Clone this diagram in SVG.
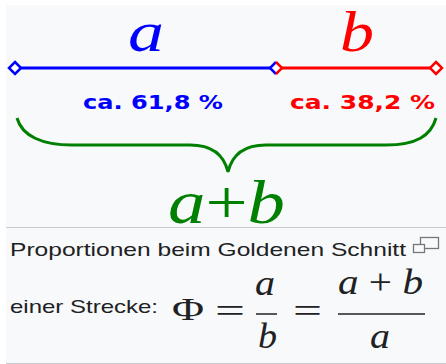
<svg xmlns="http://www.w3.org/2000/svg" width="446" height="364" viewBox="0 0 446 364">
<style>
.serif{font-family:"Liberation Serif","Times New Roman",serif}
.it{font-style:italic}
.pct{font-family:"DejaVu Sans",Verdana,sans-serif;font-weight:bold;font-size:20px}
.cap{font-family:"Liberation Sans",Arial,sans-serif;font-size:19px;fill:#202122}
.math{font-family:"Liberation Serif","Times New Roman",serif;fill:#202122}
</style>
<rect x="0" y="0" width="446" height="364" fill="#ffffff"/>
<rect x="6" y="5" width="440" height="358" fill="#f8f9fa"/>
<line x1="6" y1="227.5" x2="446" y2="227.5" stroke="#c8ccd1" stroke-width="1"/>
<line x1="6" y1="363.5" x2="446" y2="363.5" stroke="#c8ccd1" stroke-width="1"/>
<g id="connectors">
<line x1="15" y1="68" x2="276" y2="68" stroke="#0000ff" stroke-width="3"/>
<line x1="276" y1="68" x2="436" y2="68" stroke="#ff0000" stroke-width="3"/>
<path d="M17,118 C22,136 42,145 72,145 L190,145 C212,145 224,155 228,172 C232,155 244,145 266,145 L386,145 C416,145 431,136 436,118" fill="none" stroke="#008000" stroke-width="3"/>
</g>
<g id="node-a">
<path d="M15,62 L21,68 L15,74 L9,68 Z" fill="#ffffff" stroke="#0000ff" stroke-width="2.5"/>
<text class="serif it" x="128" y="51" font-size="57" fill="#0000ff" textLength="36" lengthAdjust="spacingAndGlyphs">a</text>
<text class="pct" x="83" y="109" fill="#0000ff" textLength="140" lengthAdjust="spacingAndGlyphs">ca. 61,8 %</text>
</g>
<g id="node-mid">
<path d="M276,62 L270,68 L276,74" fill="#ffffff" stroke="#0000ff" stroke-width="2.5"/>
<path d="M276,62 L282,68 L276,74" fill="#ffffff" stroke="#ff0000" stroke-width="2.5"/>
</g>
<g id="node-b">
<path d="M436,62 L442,68 L436,74 L430,68 Z" fill="#ffffff" stroke="#ff0000" stroke-width="2.5"/>
<text class="serif it" x="340" y="51" font-size="57" fill="#ff0000" textLength="34" lengthAdjust="spacingAndGlyphs">b</text>
<text class="pct" x="290" y="109" fill="#ff0000" textLength="145" lengthAdjust="spacingAndGlyphs">ca. 38,2 %</text>
</g>
<g id="node-sum">
<text class="serif" x="168" y="223" font-size="62" fill="#008000" textLength="117" lengthAdjust="spacingAndGlyphs"><tspan font-style="italic">a</tspan>+<tspan font-style="italic">b</tspan></text>
</g>
<g id="caption">
<text class="cap" x="10" y="256" textLength="396" lengthAdjust="spacingAndGlyphs">Proportionen beim Goldenen Schnitt</text>
<rect x="420.5" y="237.5" width="18" height="11" fill="none" stroke="#72777d" stroke-width="1.3"/>
<rect x="413.5" y="244.5" width="11" height="8" fill="#f8f9fa" stroke="#72777d" stroke-width="1.3"/>
<text class="cap" x="10" y="313" textLength="148" lengthAdjust="spacingAndGlyphs">einer Strecke:</text>
<text class="math" x="172" y="320" font-size="32" textLength="32" lengthAdjust="spacingAndGlyphs">Φ</text>
<text class="math" x="215" y="322" font-size="34" textLength="30" lengthAdjust="spacingAndGlyphs">=</text>
<text class="math it" x="255" y="295" font-size="36" textLength="20" lengthAdjust="spacingAndGlyphs">a</text>
<line x1="256" y1="314" x2="277" y2="314" stroke="#202122" stroke-width="1.5"/>
<text class="math it" x="258" y="348" font-size="36" textLength="19" lengthAdjust="spacingAndGlyphs">b</text>
<text class="math" x="293" y="322" font-size="34" textLength="29" lengthAdjust="spacingAndGlyphs">=</text>
<text class="math" x="338" y="294" font-size="36" textLength="85" lengthAdjust="spacingAndGlyphs"><tspan font-style="italic">a</tspan> + <tspan font-style="italic">b</tspan></text>
<line x1="338" y1="314" x2="425" y2="314" stroke="#202122" stroke-width="1.5"/>
<text class="math it" x="370" y="348" font-size="36" textLength="20" lengthAdjust="spacingAndGlyphs">a</text>
</g>
</svg>
